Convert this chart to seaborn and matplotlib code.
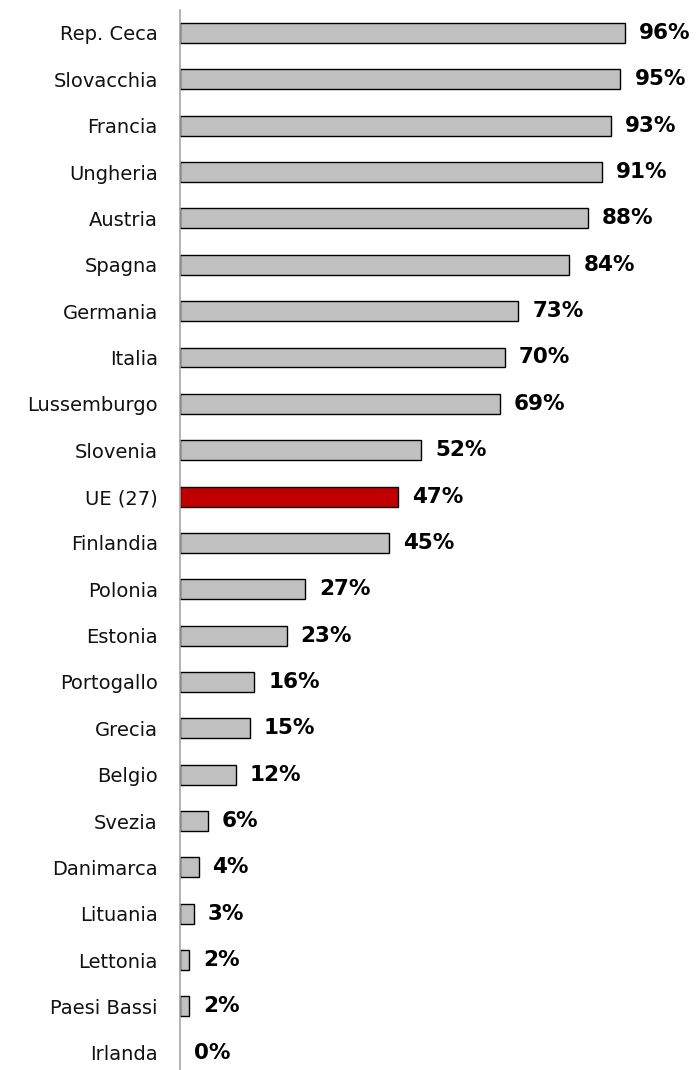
import matplotlib
matplotlib.use("Agg")
import matplotlib.pyplot as plt
import seaborn as sns
import pandas as pd

countries = ["Rep. Ceca", "Slovacchia", "Francia", "Ungheria", "Austria", "Spagna",
             "Germania", "Italia", "Lussemburgo", "Slovenia", "UE (27)", "Finlandia",
             "Polonia", "Estonia", "Portogallo", "Grecia", "Belgio", "Svezia",
             "Danimarca", "Lituania", "Lettonia", "Paesi Bassi", "Irlanda"]
values = [96, 95, 93, 91, 88, 84, 73, 70, 69, 52, 47, 45, 27, 23, 16, 15, 12, 6, 4, 3, 2, 2, 0]
highlight = "UE (27)"

sns.set_theme(style="white")
plt.rcParams['font.family'] = ['DejaVu Sans']

df = pd.DataFrame({"country": countries, "value": values})
palette = {c: ("#C00000" if c == highlight else "#C0C0C0") for c in countries}

fig = plt.figure(figsize=(6.96, 10.70), dpi=100)
ax = fig.add_axes([180/696, -6/1070, (690-180)/696, 1066.2/1070])
sns.barplot(data=df, x="value", y="country", hue="country", palette=palette,
            order=countries, hue_order=countries, orient="h", legend=False,
            width=0.43, edgecolor="black", linewidth=1.0, saturation=1, ax=ax)

for p in ax.patches:
    if p.get_width() == 0:
        p.set_visible(False)

ax.set_xlim(0, 110)
ax.set_ylim(len(countries) - 0.5, -0.5)
ax.set_xlabel("")
ax.set_ylabel("")
ax.set_xticks([])
for s in ["top", "right", "bottom"]:
    ax.spines[s].set_visible(False)
ax.spines["left"].set_color("#A6A6A6")
ax.spines["left"].set_linewidth(1.2)
ax.tick_params(axis="y", length=0, pad=16, labelsize=14, labelcolor="#111111")

for i, v in enumerate(values):
    ax.annotate(f"{v}%", xy=(v, i), xytext=(14, 0), textcoords="offset pixels",
                va="center", ha="left", fontsize=15.5, fontweight="bold", color="black")

fig.savefig("out.png", dpi=100)
